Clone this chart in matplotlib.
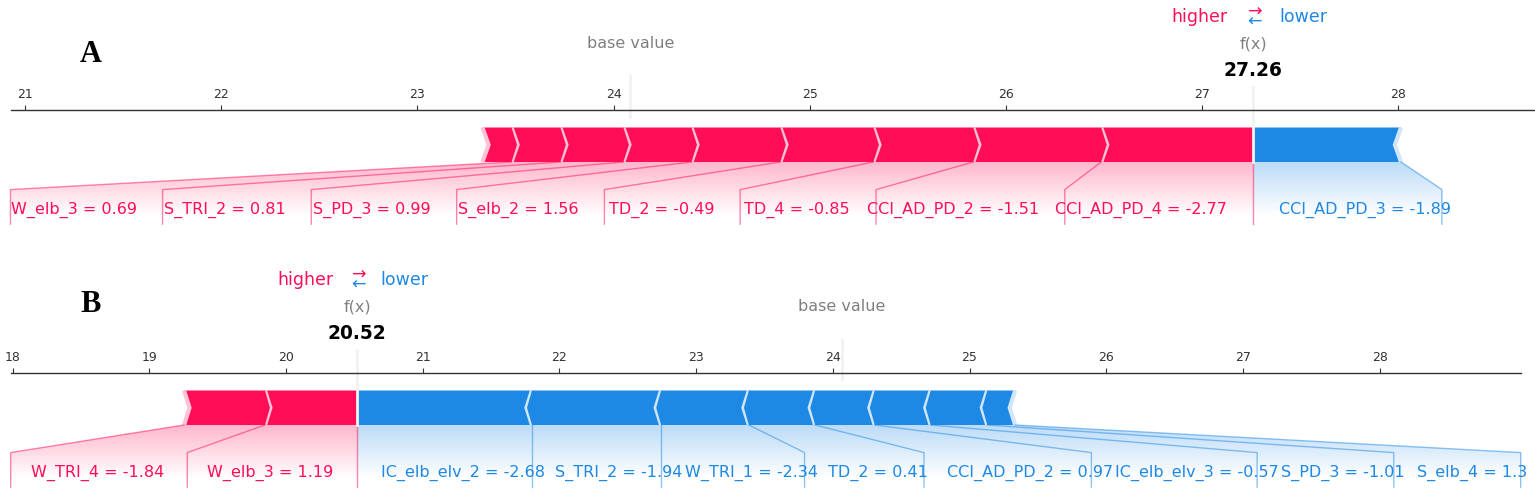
import numpy as np
import matplotlib
matplotlib.use("Agg")
import matplotlib.pyplot as plt
from matplotlib import lines
from matplotlib.path import Path
from matplotlib.patches import PathPatch, Polygon
from matplotlib.colors import LinearSegmentedColormap
from matplotlib.ticker import MaxNLocator

# ---------------- data ----------------
# Panel A
a_base_value = 24.085
a_pos_names = ["CCI_AD_PD_4", "CCI_AD_PD_2", "TD_4", "TD_2", "S_elb_2",
               "S_PD_3", "S_TRI_2", "W_elb_3", ""]
a_pos_feature_values = ["-2.77", "-1.51", "-0.85", "-0.49", "1.56",
                        "0.99", "0.81", "0.69", ""]
a_pos_shap = [0.775, 0.652, 0.509, 0.474, 0.453, 0.347, 0.321, 0.249, 0.148]
a_neg_names = ["CCI_AD_PD_3"]
a_neg_feature_values = ["-1.89"]
a_neg_shap = [-0.753]

# Panel B
b_base_value = 24.068
b_pos_names = ["W_elb_3", "W_TRI_4"]
b_pos_feature_values = ["1.19", "-1.84"]
b_pos_shap = [0.674, 0.592]
b_neg_names = ["IC_elb_elv_2", "S_TRI_2", "W_TRI_1", "TD_2", "CCI_AD_PD_2",
               "IC_elb_elv_3", "S_PD_3", "S_elb_4"]
b_neg_feature_values = ["-2.68", "-1.94", "-2.34", "0.41", "0.97",
                        "-0.57", "-1.01", "1.3"]
b_neg_shap = [-1.279, -0.945, -0.642, -0.485, -0.436, -0.409, -0.414, -0.204]

panel_letters = ["A", "B"]

# ---------------- style ----------------
W_PX, H_PX, DPI = 1535, 496, 100
POS_COLORS = ['#FF0D57', '#FFC3D5']
NEG_COLORS = ['#1E88E5', '#D1E6FA']
LABEL_FS = 11.5
HL_FS = 12.5
NAME_FS = 11.5
OUT_FS = 13.4
TICK_FS = 9
Y_SCALE = 345.0  # px per y-unit
OFFSET_FRAC = 0.0283
RIGHT_TICK_MARGIN = 0.01


def connector(ax, xs, ys, color):
    ln = lines.Line2D(xs, ys, lw=1., alpha=0.5, color=color)
    ln.set_clip_on(False)
    ax.add_line(ln)


def draw_bars(ax, out_value, cum, kind, width_sep, width_bar):
    pre_val = out_value
    for i, c in enumerate(cum):
        if kind == 'positive':
            left, right = float(c), pre_val
            pre_val = left
            indent = abs(width_sep)
            sep_pos = left
            colors = POS_COLORS
        else:
            left, right = pre_val, float(c)
            pre_val = right
            indent = -abs(width_sep)
            sep_pos = right
            colors = NEG_COLORS
        if i == 0:
            if kind == 'positive':
                pts = [[left, 0], [right, 0], [right, width_bar], [left, width_bar],
                       [left + indent, width_bar / 2]]
            else:
                pts = [[right, 0], [left, 0], [left, width_bar], [right, width_bar],
                       [right + indent, width_bar / 2]]
        else:
            pts = [[left, 0], [right, 0], [right + indent * 0.9, width_bar / 2],
                   [right, width_bar], [left, width_bar],
                   [left + indent * 0.9, width_bar / 2]]
        ax.add_patch(Polygon(pts, closed=True, fill=True, facecolor=colors[0], linewidth=0))
        sep = [[sep_pos, 0], [sep_pos + indent, width_bar / 2], [sep_pos, width_bar]]
        ax.add_patch(Polygon(sep, closed=False, fill=False, edgecolor=colors[1], lw=3))


def draw_labels(fig, ax, out_value, cum, names, fvals, kind, offset_text, renderer):
    if kind == 'positive':
        colors, align, sign = POS_COLORS, 'right', 1
        connector(ax, [out_value, out_value], [0, -0.18], colors[0])
    else:
        colors, align, sign = NEG_COLORS, 'left', -1
    start_text = out_value
    pre_val = out_value
    box_end = out_value
    for c, name, fv in zip(cum, names, fvals):
        if not name:
            break
        val = float(c)
        txt = ax.text(start_text - sign * offset_text, -0.15, f"{name} = {fv}",
                      fontsize=LABEL_FS, color=colors[0], ha=align, va='baseline')
        bb = txt.get_window_extent(renderer=renderer).transformed(ax.transData.inverted())
        box_end_ = bb.x0 if kind == 'positive' else bb.x1
        if sign * box_end_ > sign * val:
            connector(ax, [val, val], [0, -0.18], colors[0])
            start_text = val
            box_end = val
        else:
            box_end = box_end_ - sign * offset_text
            connector(ax, [val, box_end, box_end], [0, -0.08, -0.18], colors[0])
            start_text = box_end
        pre_val = val

    path = Path([[out_value, 0], [pre_val, 0], [box_end, -0.08],
                 [box_end, -0.2], [out_value, -0.2], [out_value, 0]])
    patch = PathPatch(path, facecolor='none', edgecolor='none')
    ax.add_patch(patch)

    lo, hi = ax.get_xlim()
    if box_end < lo:
        ax.set_xlim(box_end, hi)
    if box_end > hi:
        ax.set_xlim(lo, box_end)

    cm = LinearSegmentedColormap.from_list('cm', [colors[0], '#FFFFFF'])
    _, Z2 = np.meshgrid(np.linspace(0, 10), np.linspace(-10, 10))
    im = ax.imshow(Z2, interpolation='quadric', cmap=cm, vmax=0.01, alpha=0.3,
                   origin='lower', extent=[out_value, box_end, 0, -0.31],
                   aspect='auto')
    im.set_clip_path(patch)


def force_panel(fig, rect, base_value, pos_names, pos_fvals, pos_shap,
                neg_names, neg_fvals, neg_shap):
    ax = fig.add_axes(rect)
    pos_shap = np.asarray(pos_shap, float)
    neg_shap = np.asarray(neg_shap, float)
    out_value = base_value + pos_shap.sum() + neg_shap.sum()
    total_pos = pos_shap.sum()
    total_neg = neg_shap.sum()
    pos_cum = out_value - np.cumsum(pos_shap)
    neg_cum = out_value - np.cumsum(neg_shap)

    ax.set_ylim(-0.25, 0.15)
    padding = max(abs(total_pos) * 0.2, abs(total_neg) * 0.2)
    min_x = min(pos_cum.min(), base_value) - padding
    max_x = max(neg_cum.max(), base_value) + padding
    ax.set_xlim(min_x, max_x)
    ax.tick_params(top=True, bottom=False, left=False, right=False,
                   labelleft=False, labeltop=True, labelbottom=False,
                   labelsize=TICK_FS, labelcolor='#333333', color='#333333')
    for key, sp in ax.spines.items():
        if key != 'top':
            sp.set_visible(False)
        else:
            sp.set_color('#333333')
            sp.set_linewidth(1.0)
    ax.patch.set_alpha(0)

    width_bar = 0.1
    width_sep = (max_x - min_x) / 200
    draw_bars(ax, out_value, neg_cum, 'negative', width_sep, width_bar)
    draw_bars(ax, out_value, pos_cum, 'positive', width_sep, width_bar)

    offset_text = (abs(total_neg) + abs(total_pos)) * OFFSET_FRAC
    renderer = fig.canvas.get_renderer()
    draw_labels(fig, ax, out_value, neg_cum, neg_names, neg_fvals, 'negative',
                offset_text, renderer)
    draw_labels(fig, ax, out_value, pos_cum, pos_names, pos_fvals, 'positive',
                offset_text, renderer)

    # higher / lower legend
    ax.text(out_value - offset_text, 0.405, 'higher', fontsize=HL_FS,
            color=POS_COLORS[0], ha='right')
    ax.text(out_value + offset_text, 0.405, 'lower', fontsize=HL_FS,
            color=NEG_COLORS[0], ha='left')
    ax.text(out_value, 0.397, r'$\leftarrow$', fontsize=HL_FS,
            color=NEG_COLORS[0], ha='center')
    ax.text(out_value, 0.428, r'$\rightarrow$', fontsize=HL_FS,
            color=POS_COLORS[0], ha='center')

    # base value
    ln = lines.Line2D([base_value, base_value], [0.13, 0.25], lw=2., color='#F2F2F2')
    ln.set_clip_on(False)
    ax.add_line(ln)
    t = ax.text(base_value, 0.33, 'base value', fontsize=NAME_FS, alpha=0.5, ha='center')
    t.set_bbox(dict(facecolor='white', edgecolor='white'))

    # output value
    ln = lines.Line2D([out_value, out_value], [0, 0.24], lw=2., color='#F2F2F2')
    ln.set_clip_on(False)
    ax.add_line(ln)
    t = ax.text(out_value, 0.25, '{0:.2f}'.format(out_value), fontsize=OUT_FS,
                fontweight='bold', ha='center')
    t.set_bbox(dict(facecolor='white', edgecolor='white'))
    t = ax.text(out_value, 0.33, 'f(x)', fontsize=NAME_FS, alpha=0.5, ha='center')
    t.set_bbox(dict(facecolor='white', edgecolor='white'))

    lo, hi = ax.get_xlim()
    ticks = MaxNLocator(nbins=12, steps=[1, 2, 2.5, 5, 10]).tick_values(lo, hi)
    ticks = [t for t in ticks if lo <= t <= hi - RIGHT_TICK_MARGIN * (hi - lo)]
    ax.set_xticks(ticks)
    ax.set_xlim(lo, hi)
    ax.set_ylim(-0.25, 0.15)
    return ax


fig = plt.figure(figsize=(W_PX / DPI, H_PX / DPI), dpi=DPI)


def rect_for(left_px, width_px, y0_px):
    bottom_px = y0_px + 0.25 * Y_SCALE
    return [left_px / W_PX, 1 - bottom_px / H_PX, width_px / W_PX, 0.4 * Y_SCALE / H_PX]


force_panel(fig, rect_for(10.5, 1544.7, 162), a_base_value, a_pos_names,
            a_pos_feature_values, a_pos_shap, a_neg_names, a_neg_feature_values, a_neg_shap)
force_panel(fig, rect_for(10.7, 1510.0, 425), b_base_value, b_pos_names,
            b_pos_feature_values, b_pos_shap, b_neg_names, b_neg_feature_values, b_neg_shap)

for letter, ypx in zip(panel_letters, [62, 312]):
    fig.text(91 / W_PX, 1 - ypx / H_PX, letter, fontfamily='Liberation Serif',
             fontweight='bold', fontsize=22, ha='center', va='baseline')

fig.savefig('out.png', dpi=DPI)
